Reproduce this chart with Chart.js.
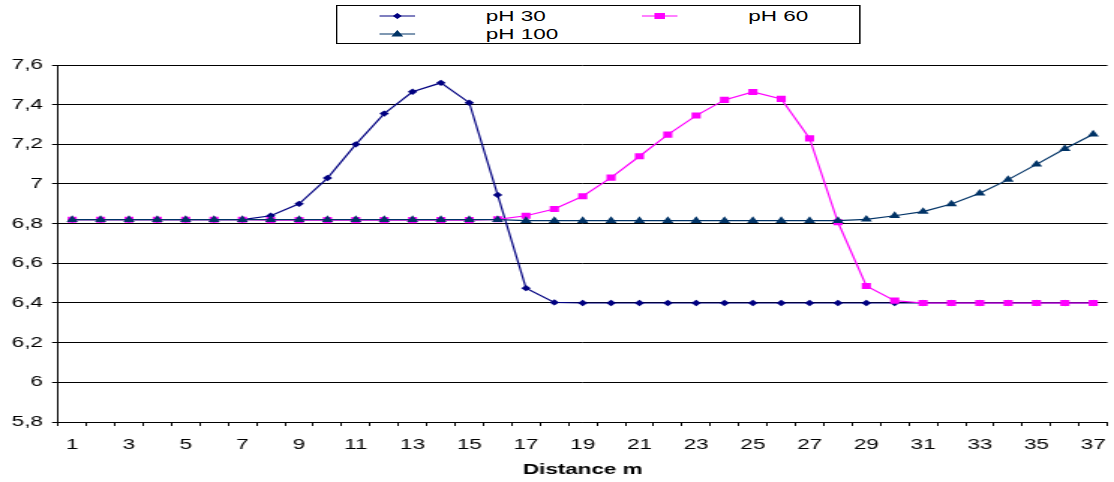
<!DOCTYPE html>
<html>
   <head>
      <meta charset="UTF-8">
      <title>pH vs distance</title>
      <script src="https://cdn.jsdelivr.net/npm/chart.js@4"></script>
      <style>
         body{margin:0;background:#fff;overflow:hidden;font-family:"Liberation Sans",Arial,sans-serif;}
         #wrap{position:absolute;left:0;top:0;width:743px;height:482px;
               transform:scaleX(1.4993);transform-origin:0 0;}
         #legend{position:absolute;left:224px;top:5px;width:348px;height:37px;
                 border:1px solid #000;background:#fff;}
         .item{position:absolute;height:18px;font-size:15px;line-height:18px;color:#000;white-space:nowrap;}
         .item svg{position:absolute;left:0;top:1px;}
         .item span{position:absolute;}
      </style>
   </head>
   <body>
    <div id="wrap">
        <canvas id="chart"></canvas>
        <div id="legend"></div>
    </div>

      <script>
         const distance=["1","2","3","4","5","6","7","8","9","10","11","12","13","14","15","16","17","18","19",
            "20","21","22","23","24","25","26","27","28","29","30","31","32","33","34","35","36","37"];

         const ph30=[6.82,6.82,6.82,6.82,6.82,6.82,6.82,6.84,6.9,7.03,7.2,7.355,7.465,7.51,7.41,6.945,
            6.475,6.403,6.4,6.4,6.4,6.4,6.4,6.4,6.4,6.4,6.4,6.4,6.4,6.4,6.4,6.4,6.4,6.4,6.4,6.4,6.4];
         const ph60=[6.82,6.82,6.82,6.82,6.82,6.82,6.82,6.818,6.818,6.818,6.818,6.818,6.818,6.818,6.818,6.822,
            6.84,6.874,6.938,7.032,7.14,7.249,7.345,7.424,7.464,7.429,7.23,6.807,6.486,6.412,
            6.4,6.4,6.4,6.4,6.4,6.4,6.4];
         const ph100=[6.82,6.82,6.82,6.82,6.82,6.82,6.82,6.82,6.82,6.82,6.82,6.82,6.82,6.82,6.82,6.82,
            6.815,6.815,6.815,6.815,6.815,6.815,6.815,6.815,6.815,6.815,6.815,6.815,
            6.822,6.84,6.861,6.899,6.953,7.022,7.099,7.178,7.251];

         const seriesNames=["pH 30","pH 60","pH 100"];
         const seriesColors=["#000080","#FF00FF","#003366"];
         const yTicks=[5.8,6,6.2,6.4,6.6,6.8,7,7.2,7.4,7.6];

         const font={family:"'Liberation Sans', Arial, sans-serif",size:15};
         const markers=[
            {pointStyle:"rectRot",pointRadius:3.2},
            {pointStyle:"rect",pointRadius:4.3},
            {pointStyle:"triangle",pointRadius:4.4}
         ];

         const datasets=[ph30,ph60,ph100].map((d,i)=>({
            label:seriesNames[i],
            data:d,
            borderColor:seriesColors[i],
            backgroundColor:seriesColors[i],
            pointBackgroundColor:seriesColors[i],
            pointBorderColor:seriesColors[i],
            pointBorderWidth:0,
            borderWidth:1.2,
            pointStyle:markers[i].pointStyle,
            pointRadius:markers[i].pointRadius,
            order:2-i,
            tension:0
         }));

         const chart=new Chart(document.getElementById("chart"),{
            type:"line",
            data:{labels:distance,datasets},
            options:{
               responsive:true,
               maintainAspectRatio:false,
               animation:false,
               devicePixelRatio:1,
               layout:{padding:{left:0,top:65,right:0,bottom:0}},
               plugins:{legend:{display:false},tooltip:{enabled:false}},
               scales:{
                  x:{
                     offset:true,
                     afterFit:s=>{s.height=60;s.paddingLeft=0;s.paddingRight=0;},
                     grid:{display:true,drawOnChartArea:false,offset:true,tickLength:4,color:"#000"},
                     border:{display:true,color:"#000"},
                     ticks:{
                        autoSkip:false,maxRotation:0,padding:10,color:"#000",font,
                        callback:(v,i)=>i%2===0?distance[i]:""
                     },
                     title:{display:true,text:"Distance m",color:"#000",
                        font:{family:font.family,size:15,weight:"bold"},padding:{top:0,bottom:3}}
                  },
                  y:{
                     min:5.8,max:7.6,
                     afterBuildTicks:s=>{s.ticks=yTicks.map(v=>({value:v}));},
                     afterFit:s=>{s.width=38.7;},
                     grid:{color:"#000",lineWidth:1,tickLength:4},
                     border:{display:true,color:"#000"},
                     ticks:{padding:6,color:"#000",font,
                        callback:v=>String(Math.round(v*10)/10).replace(".",",")}
                  }
               }
            }
         });

         // legend in two columns like the original
         const legend=document.getElementById("legend");
         const slots=[{x:28,y:1},{x:203,y:1},{x:28,y:19}];
         function markerSvg(i){
            const c=seriesColors[i];
            let shape;
            if(i===0) shape=`<polygon points="12,5 15,8 12,11 9,8" fill="${c}"/>`;
            else if(i===1) shape=`<rect x="8.5" y="5" width="7" height="6" fill="${c}"/>`;
            else shape=`<polygon points="12,4 16,10.5 8,10.5" fill="${c}"/>`;
            return `<svg width="24" height="16"><line x1="0" y1="8" x2="24" y2="8" stroke="${c}" stroke-width="1.2"/>${shape}</svg>`;
         }
         seriesNames.forEach((name,i)=>{
            const d=document.createElement("div");
            d.className="item";
            d.style.left=slots[i].x+"px";
            d.style.top=slots[i].y+"px";
            d.innerHTML=markerSvg(i)+`<span style="left:71px">${name}</span>`;
            legend.appendChild(d);
         });
      </script>
   </body>
</html>
